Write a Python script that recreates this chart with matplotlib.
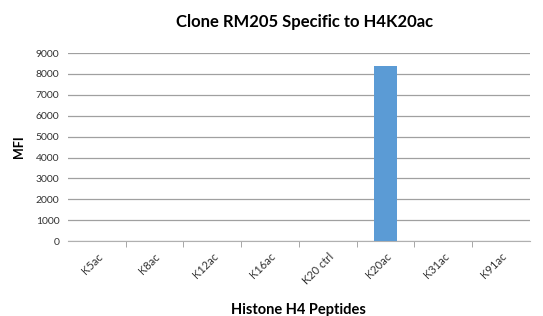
import numpy as np
import matplotlib
matplotlib.use('Agg')
import matplotlib.pyplot as plt

peptides = ['K5ac', 'K8ac', 'K12ac', 'K16ac', 'K20 ctrl', 'K20ac', 'K31ac', 'K91ac']
mfi = [15, 15, 15, 15, 15, 8400, 15, 15]
yticks = [0, 1000, 2000, 3000, 4000, 5000, 6000, 7000, 8000, 9000]

plt.rcParams['font.family'] = ['Lato', 'DejaVu Sans']

fig = plt.figure(figsize=(5.43, 3.16), dpi=100)
ax = fig.add_axes([0.125, 0.237, 0.851, 0.595])

x = np.arange(len(peptides))
ax.bar(x, mfi, width=0.4, color='#5b9bd5', zorder=3)

ax.set_xlim(-0.5, len(peptides) - 0.5)
ax.set_ylim(0, 9000)
ax.set_yticks(yticks)
ax.set_yticklabels([str(v) for v in yticks], fontsize=7.5, color='#333333')
ax.yaxis.grid(True, color='#a0a0a0', lw=0.9, zorder=0)
ax.tick_params(axis='y', length=0, pad=6)

# category labels at centres, tick marks between categories
ax.set_xticks(x)
ax.set_xticklabels(peptides, rotation=45, ha='right', rotation_mode='anchor',
                   fontsize=8, color='#333333')
ax.tick_params(axis='x', which='major', length=0, pad=7)
ax.set_xticks(np.arange(0.5, len(peptides) - 0.5), minor=True)
ax.tick_params(axis='x', which='minor', length=4, color='#999999')

for side in ['top', 'right', 'left']:
    ax.spines[side].set_visible(False)
ax.spines['bottom'].set_color('#b0b0b0')

ax.set_ylabel('MFI', fontsize=9, fontweight='bold', labelpad=8)
ax.set_xlabel('Histone H4 Peptides', fontsize=10.5, fontweight='bold', labelpad=12)
fig.suptitle('Clone RM205 Specific to H4K20ac', x=0.56, y=0.955,
             fontsize=12, fontweight='bold')

fig.savefig('out.png', dpi=100)
